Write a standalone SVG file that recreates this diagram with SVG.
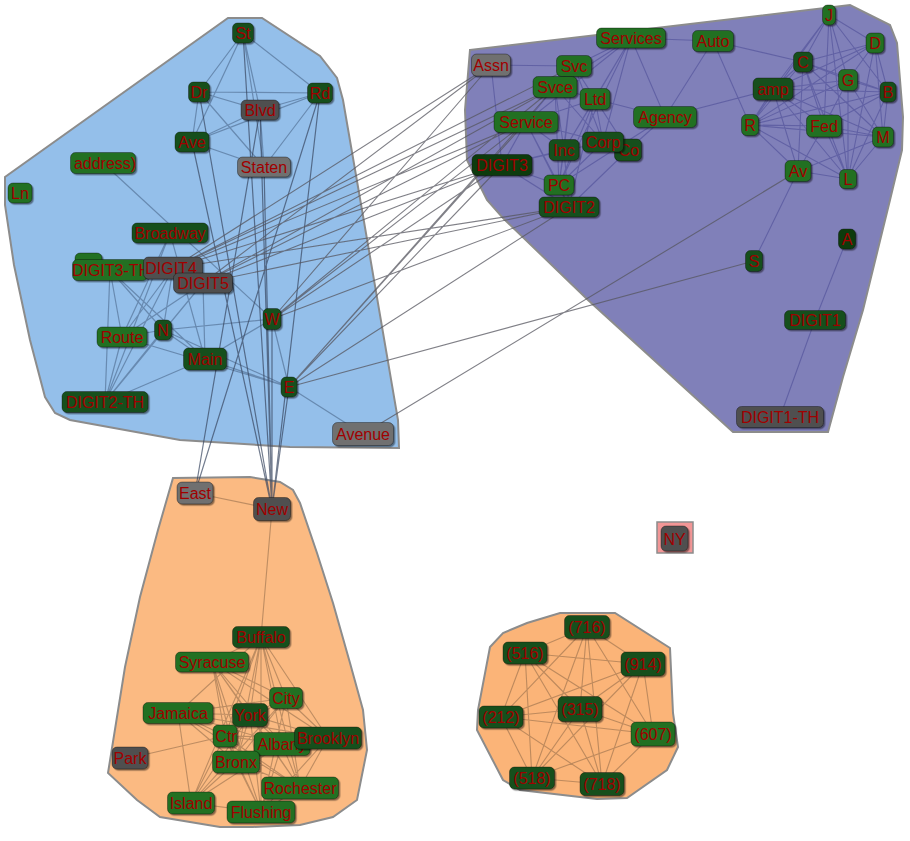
<svg xmlns="http://www.w3.org/2000/svg" width="910" height="841" viewBox="0 0 910 841">
<defs>
<filter id="ds" x="-20%" y="-20%" width="150%" height="160%"><feDropShadow dx="1.5" dy="1.5" stdDeviation="0.6" flood-color="#000" flood-opacity="0.45"/></filter>
<style>
.cl{stroke:#8c8c8c;stroke-width:2}
.node rect{stroke:rgba(0,0,0,0.35);stroke-width:1;filter:url(#ds)}
.g rect{fill:#236f23}.d rect{fill:#17501a}.v rect{fill:#0f3b11}.y rect{fill:#6f6f6f}.k rect{fill:#505050}
.node text{font-family:"Liberation Sans",Arial,sans-serif;font-size:16px;fill:#a00000;text-anchor:middle}
.eb path{stroke:rgba(60,85,120,0.5);stroke-width:1.2;fill:none}
.ebo path{stroke:rgba(55,70,95,0.7);stroke-width:1.2;fill:none}
.ex path{stroke:rgba(85,85,95,0.75);stroke-width:1.1;fill:none}
.ep path{stroke:rgba(60,60,140,0.45);stroke-width:1.1;fill:none}
.eo path{stroke:rgba(130,95,65,0.5);stroke-width:1.1;fill:none}
</style>
</defs>
<rect width="910" height="841" fill="#fff"/>
<g id="clusters">
<polygon class="cl" fill="#94bfea" points="228,18 262,18 320,56 337,78 343,100 362,210 398,420 399,448 290,447 180,440 70,420 55,413 45,397 30,340 14,265 5,205 5,177"/>
<polygon class="cl" fill="#8080b9" points="470,50 850,5 890,25 897,43 903,117 902,150 890,200 863,310 843,377 828,432 733,432 588,300 503,218 487,200 467,160 465,110"/>
<polygon class="cl" fill="#fbba82" points="173,478 250,477 280,482 293,490 300,503 317,553 333,603 350,663 363,710 367,750 357,800 333,817 300,825 253,827 220,827 160,817 137,800 108,773 125,667 140,597 158,530"/>
<polygon class="cl" fill="#fbb478" points="560,613 615,613 670,648 673,713 678,747 667,770 627,798 597,799 520,790 503,780 477,730 478,710 490,647 503,633 527,623"/>
<rect x="657" y="522" width="36" height="31" fill="#f29696" stroke="#8c8c8c" stroke-width="1.5"/>
</g>
<g id="connectors">
<g class="eb">
<path d="M243,33L199,92M243,33L320,93M243,33L260,110M243,33L192,142M243,33L264,167M199,92L320,93M199,92L260,110M199,92L264,167M199,92L192,142M320,93L260,110M320,93L192,142M320,93L264,167M260,110L192,142M192,142L264,167M260,110L264,167M103,163L272,319"/>
<path d="M110,270L122,337M110,270L163,330M110,270L205,359M110,270L105,402M170,233L122,337M170,233L205,359M170,233L105,402M173,268L122,337M173,268L163,330M173,268L105,402M203,283L205,359M203,283L105,402M203,283L122,337M163,330L272,319M163,330L205,359M163,330L289,387M122,337L105,402M122,337L163,330M205,359L105,402M205,359L289,387M205,359L272,319M272,319L289,387M289,387L363,434M122,337L289,387M163,330L105,402"/>
</g>
<g class="ebo">
<path d="M272,509L243,33M272,509L260,110M272,509L264,167M272,509L199,92M272,509L320,93M272,509L192,142M272,509L272,319M272,509L289,387M195,493L260,110M195,493L320,93"/>
</g>
<g class="ex">
<path d="M173,268L491,65M173,268L555,87M173,268L526,122M173,268L502,165M173,268L569,207M173,268L574,66M203,283L491,65M203,283L555,87M203,283L526,122M203,283L502,165M203,283L569,207M272,319L555,87M272,319L526,122M272,319L502,165M272,319L569,207M272,319L491,65M289,387L555,87M289,387L526,122M289,387L502,165M289,387L569,207M289,387L754,261M363,434L798,171"/>
</g>
<g class="ep">
<path d="M491,65L574,66M491,65L502,165M631,38L713,41M631,38L574,66M631,38L555,87M631,38L595,99M631,38L526,122M631,38L665,117M631,38L564,150M631,38L603,142M631,38L559,185M713,41L665,117M713,41L750,125M713,41L803,62M665,117L773,89M595,99L665,117M574,66L595,99M574,66L555,87M574,66L603,142M574,66L564,150M574,66L559,185M574,66L628,150M555,87L595,99M555,87L526,122M555,87L564,150M555,87L559,185M555,87L603,142M595,99L526,122M595,99L564,150M595,99L603,142M595,99L628,150M595,99L559,185M595,99L569,207M526,122L564,150M526,122L603,142M526,122L502,165M526,122L559,185M526,122L569,207M564,150L502,165M564,150L559,185M564,150L569,207M603,142L628,150M603,142L502,165M603,142L559,185M628,150L569,207M628,150L665,117M502,165L559,185M502,165L569,207M559,185L569,207M665,117L559,185"/>
<path d="M829,15L803,62M829,15L848,80M829,15L875,43M829,15L888,92M829,15L773,89M829,15L824,126M829,15L848,179M829,15L750,125M875,43L803,62M875,43L848,80M875,43L888,92M875,43L883,137M875,43L750,125M875,43L773,89M875,43L848,179M803,62L848,80M803,62L773,89M803,62L888,92M803,62L750,125M803,62L824,126M803,62L848,179M803,62L798,171M803,62L883,137M848,80L773,89M848,80L888,92M848,80L750,125M848,80L824,126M848,80L848,179M848,80L883,137M773,89L888,92M773,89L750,125M773,89L824,126M773,89L798,171M773,89L883,137M773,89L848,179M888,92L750,125M888,92L824,126M888,92L883,137M888,92L848,179M750,125L824,126M750,125L883,137M750,125L798,171M750,125L848,179M824,126L883,137M824,126L848,179M824,126L798,171M883,137L848,179M883,137L798,171M798,171L848,179M798,171L754,261M847,239L815,320M815,320L780,417"/>
</g>
<g class="eo">
<path d="M195,493L272,509M272,509L261,637M261,637L212,662M261,637L286,698M261,637L178,713M261,637L250,715M261,637L225,736M261,637L282,744M261,637L328,738M261,637L236,762M261,637L300,788M261,637L261,812M261,637L191,803M212,662L286,698M212,662L250,715M212,662L282,744M212,662L328,738M212,662L236,762M212,662L300,788M212,662L225,736M212,662L261,812M286,698L178,713M286,698L250,715M286,698L225,736M286,698L236,762M286,698L300,788M286,698L328,738M286,698L191,803M286,698L261,812M178,713L250,715M178,713L225,736M178,713L282,744M178,713L328,738M178,713L236,762M178,713L191,803M178,713L300,788M250,715L282,744M250,715L328,738M250,715L236,762M250,715L300,788M250,715L191,803M250,715L261,812M225,736L282,744M225,736L328,738M225,736L236,762M225,736L300,788M225,736L191,803M225,736L261,812M282,744L236,762M282,744L300,788M282,744L261,812M282,744L191,803M328,738L236,762M328,738L300,788M328,738L261,812M236,762L300,788M236,762L191,803M236,762L261,812M300,788L261,812M191,803L261,812M130,758L225,736"/>
<path d="M587,627L525,653M587,627L643,664M587,627L580,709M587,627L501,717M587,627L653,734M587,627L532,778M587,627L602,784M525,653L643,664M525,653L580,709M525,653L501,717M525,653L653,734M525,653L532,778M525,653L602,784M643,664L580,709M643,664L501,717M643,664L653,734M643,664L532,778M643,664L602,784M580,709L501,717M580,709L653,734M580,709L532,778M580,709L602,784M501,717L653,734M501,717L532,778M501,717L602,784M653,734L532,778M653,734L602,784M532,778L602,784"/>
</g>
</g>
<g id="nodes">
<g id="n-St" class="node d"><rect x="232.5" y="23" width="21" height="20" rx="5"/><text x="243" y="38.5">St</text></g>
<g id="n-Dr" class="node d"><rect x="188.5" y="82" width="21" height="20" rx="5"/><text x="199" y="97.5">Dr</text></g>
<g id="n-Rd" class="node d"><rect x="307.5" y="83" width="25" height="20" rx="5"/><text x="320" y="98.5">Rd</text></g>
<g id="n-Blvd" class="node k"><rect x="241" y="100" width="38" height="20" rx="5"/><text x="260" y="115.5">Blvd</text></g>
<g id="n-Ave" class="node d"><rect x="175" y="132" width="34" height="20" rx="5"/><text x="192" y="147.5">Ave</text></g>
<g id="n-Staten" class="node y"><rect x="237.5" y="157" width="53" height="20" rx="5"/><text x="264" y="172.5">Staten</text></g>
<g id="n-address" class="node g"><rect x="70.5" y="152.5" width="65" height="21" rx="5"/><text x="105" y="168.5">address)</text></g>
<g id="n-Ln" class="node g"><rect x="8" y="183" width="24" height="20" rx="5"/><text x="20" y="198.5">Ln</text></g>
<g id="n-Broadway" class="node d"><rect x="132" y="223" width="76" height="20" rx="5"/><text x="170" y="238.5">Broadway</text></g>
<g id="n-hidden" class="node g"><rect x="75" y="253" width="27" height="14" rx="5"/></g>
<g id="n-DIGIT3-TH" class="node g"><rect x="72.5" y="259.5" width="75" height="21" rx="5"/><text x="111" y="275.5">DIGIT3-TH</text></g>
<g id="n-DIGIT4" class="node k"><rect x="143.5" y="257" width="59" height="22" rx="5"/><text x="171" y="273.5">DIGIT4</text></g>
<g id="n-DIGIT5" class="node k"><rect x="173.5" y="273" width="59" height="20" rx="5"/><text x="203" y="288.5">DIGIT5</text></g>
<g id="n-W" class="node d"><rect x="263" y="308.5" width="18" height="21" rx="5"/><text x="272" y="324.5">W</text></g>
<g id="n-N" class="node d"><rect x="154.5" y="320" width="17" height="20" rx="5"/><text x="163" y="335.5">N</text></g>
<g id="n-Route" class="node g"><rect x="97" y="327" width="50" height="20" rx="5"/><text x="122" y="342.5">Route</text></g>
<g id="n-Main" class="node d"><rect x="183.5" y="348" width="43" height="22" rx="5"/><text x="205" y="364.5">Main</text></g>
<g id="n-E" class="node d"><rect x="281" y="377" width="16" height="20" rx="5"/><text x="289" y="392.5">E</text></g>
<g id="n-DIGIT2-TH" class="node d"><rect x="62" y="391.5" width="86" height="21" rx="5"/><text x="105" y="407.5">DIGIT2-TH</text></g>
<g id="n-Avenue" class="node y"><rect x="332.5" y="422.5" width="61" height="23" rx="5"/><text x="363" y="439.5">Avenue</text></g>

<g id="n-Services" class="node g"><rect x="596.5" y="28" width="69" height="20" rx="5"/><text x="631" y="43.5">Services</text></g>
<g id="n-Auto" class="node g"><rect x="692.5" y="30.5" width="41" height="21" rx="5"/><text x="713" y="46.5">Auto</text></g>
<g id="n-J" class="node g"><rect x="822.5" y="5" width="13" height="20" rx="5"/><text x="829" y="20.5">J</text></g>
<g id="n-D" class="node g"><rect x="866" y="33" width="18" height="20" rx="5"/><text x="875" y="48.5">D</text></g>
<g id="n-C" class="node d"><rect x="793.5" y="52" width="19" height="20" rx="5"/><text x="803" y="67.5">C</text></g>
<g id="n-Assn" class="node y"><rect x="471.5" y="54" width="39" height="22" rx="5"/><text x="491" y="70.5">Assn</text></g>
<g id="n-Svc" class="node g"><rect x="556.5" y="55.5" width="35" height="21" rx="5"/><text x="574" y="71.5">Svc</text></g>
<g id="n-Svce" class="node g"><rect x="533" y="76.5" width="44" height="21" rx="5"/><text x="555" y="92.5">Svce</text></g>
<g id="n-Ltd" class="node g"><rect x="580" y="88.5" width="30" height="21" rx="5"/><text x="595" y="104.5">Ltd</text></g>
<g id="n-G" class="node g"><rect x="838.5" y="69.5" width="19" height="21" rx="5"/><text x="848" y="85.5">G</text></g>
<g id="n-amp" class="node d"><rect x="753" y="78" width="40" height="22" rx="5"/><text x="773" y="94.5">amp</text></g>
<g id="n-B" class="node d"><rect x="880" y="82" width="16" height="20" rx="5"/><text x="888" y="97.5">B</text></g>
<g id="n-Service" class="node g"><rect x="494" y="111.5" width="64" height="21" rx="5"/><text x="526" y="127.5">Service</text></g>
<g id="n-Agency" class="node g"><rect x="633.5" y="106.5" width="63" height="21" rx="5"/><text x="665" y="122.5">Agency</text></g>
<g id="n-R" class="node g"><rect x="741.5" y="114.5" width="17" height="21" rx="5"/><text x="750" y="130.5">R</text></g>
<g id="n-Fed" class="node g"><rect x="806.5" y="115" width="35" height="22" rx="5"/><text x="824" y="131.5">Fed</text></g>
<g id="n-M" class="node g"><rect x="872.5" y="127" width="21" height="20" rx="5"/><text x="883" y="142.5">M</text></g>
<g id="n-Inc" class="node d"><rect x="549" y="139.5" width="30" height="21" rx="5"/><text x="564" y="155.5">Inc</text></g>
<g id="n-Co" class="node d"><rect x="614.5" y="139" width="27" height="22" rx="5"/><text x="629" y="155.5">Co</text></g>
<g id="n-Corp" class="node d"><rect x="582.5" y="132" width="41" height="20" rx="5"/><text x="603" y="147.5">Corp</text></g>
<g id="n-DIGIT3" class="node v"><rect x="472" y="154.5" width="60" height="21" rx="5"/><text x="502" y="170.5">DIGIT3</text></g>
<g id="n-Av" class="node g"><rect x="785" y="160.5" width="26" height="21" rx="5"/><text x="798" y="176.5">Av</text></g>
<g id="n-L" class="node g"><rect x="839.5" y="169.5" width="17" height="19" rx="5"/><text x="848" y="184.5">L</text></g>
<g id="n-PC" class="node g"><rect x="544" y="175" width="30" height="20" rx="5"/><text x="559" y="190.5">PC</text></g>
<g id="n-DIGIT2" class="node d"><rect x="539" y="197" width="60" height="20" rx="5"/><text x="569" y="212.5">DIGIT2</text></g>
<g id="n-A" class="node v"><rect x="838.5" y="229" width="17" height="20" rx="5"/><text x="847" y="244.5">A</text></g>
<g id="n-S" class="node d"><rect x="745.5" y="250.5" width="17" height="21" rx="5"/><text x="754" y="266.5">S</text></g>
<g id="n-DIGIT1" class="node d"><rect x="784.5" y="310.5" width="61" height="19" rx="5"/><text x="815" y="325.5">DIGIT1</text></g>
<g id="n-DIGIT1-TH" class="node k"><rect x="736.5" y="406.5" width="87" height="21" rx="5"/><text x="780" y="422.5">DIGIT1-TH</text></g>

<g id="n-East" class="node y"><rect x="177" y="482" width="36" height="22" rx="5"/><text x="195" y="498.5">East</text></g>
<g id="n-New" class="node k"><rect x="253.5" y="497.5" width="37" height="23" rx="5"/><text x="272" y="514.5">New</text></g>
<g id="n-Buffalo" class="node d"><rect x="232.5" y="626.5" width="57" height="21" rx="5"/><text x="261" y="642.5">Buffalo</text></g>
<g id="n-Syracuse" class="node g"><rect x="175.5" y="652" width="73" height="20" rx="5"/><text x="212" y="667.5">Syracuse</text></g>
<g id="n-City" class="node g"><rect x="269.5" y="687.5" width="33" height="21" rx="5"/><text x="286" y="703.5">City</text></g>
<g id="n-Jamaica" class="node g"><rect x="143" y="702.5" width="70" height="21" rx="5"/><text x="178" y="718.5">Jamaica</text></g>
<g id="n-York" class="node d"><rect x="232.5" y="703.5" width="35" height="23" rx="5"/><text x="250" y="720.5">York</text></g>
<g id="n-Ctr" class="node g"><rect x="213" y="725" width="24" height="22" rx="5"/><text x="226" y="741.5">Ctr</text></g>
<g id="n-Albany" class="node g"><rect x="254" y="732.5" width="56" height="23" rx="5"/><text x="282" y="749.5">Albany</text></g>
<g id="n-Brooklyn" class="node d"><rect x="294.5" y="727" width="67" height="22" rx="5"/><text x="328" y="743.5">Brooklyn</text></g>
<g id="n-Park" class="node k"><rect x="112" y="747" width="36" height="22" rx="5"/><text x="130" y="763.5">Park</text></g>
<g id="n-Bronx" class="node g"><rect x="212.5" y="751" width="47" height="22" rx="5"/><text x="236" y="767.5">Bronx</text></g>
<g id="n-Rochester" class="node g"><rect x="261.5" y="777" width="77" height="22" rx="5"/><text x="300" y="793.5">Rochester</text></g>
<g id="n-Island" class="node g"><rect x="167.5" y="792" width="47" height="22" rx="5"/><text x="191" y="808.5">Island</text></g>
<g id="n-Flushing" class="node g"><rect x="227" y="801" width="68" height="22" rx="5"/><text x="261" y="817.5">Flushing</text></g>

<g id="n-716" class="node d"><rect x="564.5" y="615.5" width="45" height="23" rx="5"/><text x="587" y="632.5">(716)</text></g>
<g id="n-516" class="node d"><rect x="503" y="642" width="44" height="22" rx="5"/><text x="525" y="658.5">(516)</text></g>
<g id="n-914" class="node d"><rect x="621" y="652" width="44" height="24" rx="5"/><text x="643" y="669.5">(914)</text></g>
<g id="n-315" class="node d"><rect x="558" y="696.5" width="44" height="25" rx="5"/><text x="580" y="714.5">(315)</text></g>
<g id="n-212" class="node d"><rect x="479" y="706" width="44" height="22" rx="5"/><text x="501" y="722.5">(212)</text></g>
<g id="n-607" class="node g"><rect x="631" y="722" width="44" height="24" rx="5"/><text x="653" y="739.5">(607)</text></g>
<g id="n-518" class="node d"><rect x="509.5" y="767" width="45" height="22" rx="5"/><text x="532" y="783.5">(518)</text></g>
<g id="n-718" class="node d"><rect x="580" y="772.5" width="44" height="23" rx="5"/><text x="602" y="789.5">(718)</text></g>

<g id="n-NY" class="node k"><rect x="661" y="526" width="27" height="25" rx="5"/><text x="674.5" y="544.5">NY</text></g>
</g>
</svg>
